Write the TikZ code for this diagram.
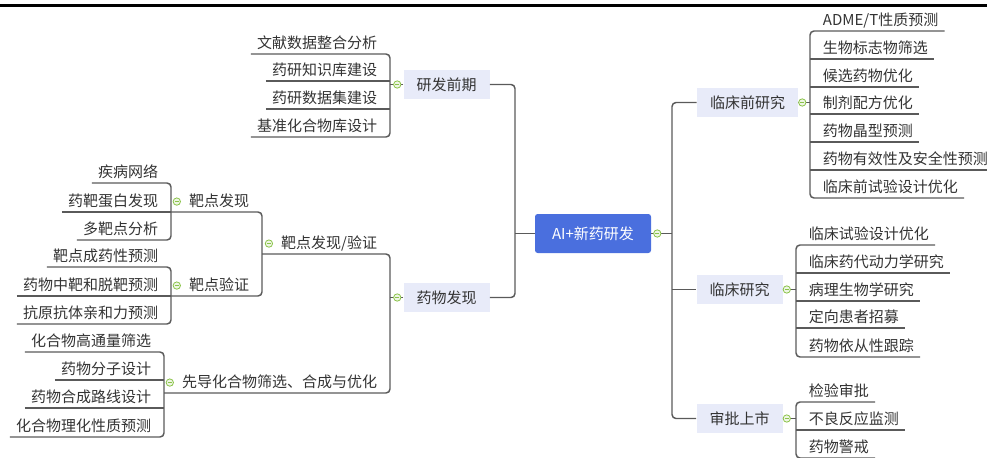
\documentclass[tikz,border=0pt]{standalone}
\usepackage{fontspec}
\newfontfamily\cjk{Noto Sans CJK SC}
\usepackage{tikz}
\usetikzlibrary{calc,positioning}
\definecolor{linegray}{HTML}{5A5A5A}
\definecolor{textgray}{HTML}{333333}
\definecolor{lavender}{HTML}{E8EBF9}
\definecolor{rootblue}{HTML}{4A6FDE}
\definecolor{foldgreen}{HTML}{8BC34A}
\tikzset{
  branch/.style={draw=linegray, line width=1.1pt, rounded corners=3pt},
  leaf/.style={font=\cjk\fontsize{11.25}{13}\selectfont, text=textgray, inner xsep=0pt, inner ysep=2pt, text height=9pt, text depth=2.25pt},
  leafL/.style={leaf, anchor=south east, execute at begin node={\kern4.5pt}, execute at end node={\kern9.5pt}},
  leafR/.style={leaf, anchor=south west, execute at begin node={\kern9.5pt}, execute at end node={\kern4.5pt}},
  midL/.style={leaf, anchor=south east, execute at begin node={\kern12.5pt}, execute at end node={\kern9.5pt}},
  topic/.style={fill=lavender, text=textgray, font=\cjk\fontsize{11.25}{13}\selectfont, inner xsep=9.75pt, inner ysep=0pt, minimum height=21.75pt},
  root/.style={fill=rootblue, text=white, font=\cjk\fontsize{11.25}{13}\selectfont, rounded corners=2pt, inner sep=0pt, minimum width=87pt, minimum height=29.25pt},
  fold/.style={circle, draw=foldgreen, fill=foldgreen!15, line width=0.6pt, inner sep=0pt, minimum size=5.5pt,
    path picture={\draw[foldgreen, line width=0.5pt] ([xshift=-1.4pt]path picture bounding box.center) -- ([xshift=1.4pt]path picture bounding box.center);}}
}
\begin{document}
\begin{tikzpicture}[x=0.75pt, y=-0.75pt]
        \useasboundingbox (0,0) rectangle (987,457);
        \clip (0,0) rectangle (987,457);
        %Top rule
        \draw[line width=2.25pt] (0,5) -- (987,5);
        %Root
        \node[root] (root) at (593,233.5) {AI+新药研发};
        \coordinate (lt) at (515,233.5);
        \coordinate (rt) at (672,233.5);
        %Main topics
        \node[topic] (t1) at (446.5,84.5) {研发前期};
        \node[topic] (t2) at (446.5,297.5) {药物发现};
        \node[topic] (t3) at (747.5,102.5) {临床前研究};
        \node[topic] (t4) at (739.5,289.5) {临床研究};
        \node[topic] (t5) at (739.5,418.5) {审批上市};
        %Trunks
        \draw[branch] (root.west) -- (lt);
        \draw[branch] (t1.east) -| (lt) |- (t2.east);
        \draw[branch] (root.east) -- (rt);
        \draw[branch] (t3.west) -| (rt) |- (t5.west);
        \draw[branch] (rt |- t4.west) -- (t4.west);
        %Pre-research leaves
        \node[leafL] (p1) at (390,54) {文献数据整合分析};
        \node[leafL] (p2) at (390,81) {药研知识库建设};
        \node[leafL] (p3) at (390,109) {药研数据集建设};
        \node[leafL] (p4) at (390,137) {基准化合物库设计};
        \draw[branch] (p1.south west) -- (p1.south east) -- (p4.south east) -- (p4.south west);
        \draw[branch] (p2.south west) -- (p2.south east);
        \draw[branch] (p3.south west) -- (p3.south east);
        \draw[branch] (t1.west) -- (p1.south east |- t1.west);
        %Drug discovery
        \node[midL] (m1) at (390,254) {靶点发现/验证};
        \node[midL] (m4) at (390,393) {先导化合物筛选、合成与优化};
        \node[midL] (m2) at (262,212) {靶点发现};
        \node[midL] (m3) at (262,296) {靶点验证};
        \node[leafL] (d1) at (171,183) {疾病网络};
        \node[leafL] (d2) at (171,212) {药靶蛋白发现};
        \node[leafL] (d3) at (171,240) {多靶点分析};
        \node[leafL] (d4) at (171,267) {靶点成药性预测};
        \node[leafL] (d5) at (171,296) {药物中靶和脱靶预测};
        \node[leafL] (d6) at (171,324) {抗原抗体亲和力预测};
        \node[leafL] (l1) at (164,352) {化合物高通量筛选};
        \node[leafL] (l2) at (164,380) {药物分子设计};
        \node[leafL] (l3) at (164,408) {药物合成路线设计};
        \node[leafL] (l4) at (164,437) {化合物理化性质预测};
        \draw[branch] (m2.south east |- m1.south) -- (m1.south east) -- (m4.south east) -- (l1.south east |- m4.south);
        \draw[branch] (t2.west) -- (m1.south east |- t2.west);
        \draw[branch] (d1.south east |- m2.south) -- (m2.south east) -- (m3.south east) -- (d4.south east |- m3.south);
        \draw[branch] (d1.south west) -- (d1.south east) -- (d3.south east) -- (d3.south west);
        \draw[branch] (d2.south west) -- (d2.south east);
        \draw[branch] (d4.south west) -- (d4.south east) -- (d6.south east) -- (d6.south west);
        \draw[branch] (d5.south west) -- (d5.south east);
        \draw[branch] (l1.south west) -- (l1.south east) -- (l4.south east) -- (l4.south west);
        \draw[branch] (l2.south west) -- (l2.south east);
        \draw[branch] (l3.south west) -- (l3.south east);
        %Preclinical leaves
        \node[leafR] (c1) at (810,31) {ADME/T性质预测};
        \node[leafR] (c2) at (810,59) {生物标志物筛选};
        \node[leafR] (c3) at (810,87) {候选药物优化};
        \node[leafR] (c4) at (810,114) {制剂配方优化};
        \node[leafR] (c5) at (810,142) {药物晶型预测};
        \node[leafR] (c6) at (810,170) {药物有效性及安全性预测};
        \node[leafR] (c7) at (810,198) {临床前试验设计优化};
        \draw[branch] (c1.south east) -- (c1.south west) -- (c7.south west) -- (c7.south east);
        \foreach \n in {c2,c3,c4,c5,c6}
          \draw[branch] (\n.south west) -- (\n.south east);
        \draw[branch] (t3.east) -- (c1.south west |- t3.east);
        %Clinical leaves
        \node[leafR] (k1) at (796,245) {临床试验设计优化};
        \node[leafR] (k2) at (796,273) {临床药代动力学研究};
        \node[leafR] (k3) at (796,301) {病理生物学研究};
        \node[leafR] (k4) at (796,328) {定向患者招募};
        \node[leafR] (k5) at (796,357) {药物依从性跟踪};
        \draw[branch] (k1.south east) -- (k1.south west) -- (k5.south west) -- (k5.south east);
        \foreach \n in {k2,k3,k4}
          \draw[branch] (\n.south west) -- (\n.south east);
        \draw[branch] (t4.east) -- (k1.south west |- t4.east);
        %Approval leaves
        \node[leafR] (a1) at (796,402) {检验审批};
        \node[leafR] (a2) at (796,430) {不良反应监测};
        \node[leafR] (a3) at (796,458) {药物警戒};
        \draw[branch] (a1.south east) -- (a1.south west) -- (a3.south west) -- (a3.south east);
        \draw[branch] (a2.south west) -- (a2.south east);
        \draw[branch] (t5.east) -- (a1.south west |- t5.east);
        %Fold marks
        \node[fold] (f0) at ([xshift=4.5pt]root.east) {};
        \node[fold] (f1) at ([xshift=-4.5pt]t1.west) {};
        \node[fold] (f2) at ([xshift=-4.5pt]t2.west) {};
        \node[fold] (f3) at ([xshift=3pt]t3.east) {};
        \node[fold] (f4) at ([xshift=3pt]t4.east) {};
        \node[fold] (f5) at ([xshift=3pt]t5.east) {};
        \node[fold] (g1) at ([xshift=3.5pt]m1.west) {};
        \node[fold] (g2) at ([xshift=3.5pt]m2.west) {};
        \node[fold] (g3) at ([xshift=3.5pt]m3.west) {};
        \node[fold] (g4) at ([xshift=3.5pt]m4.west) {};
\end{tikzpicture}
\end{document}
